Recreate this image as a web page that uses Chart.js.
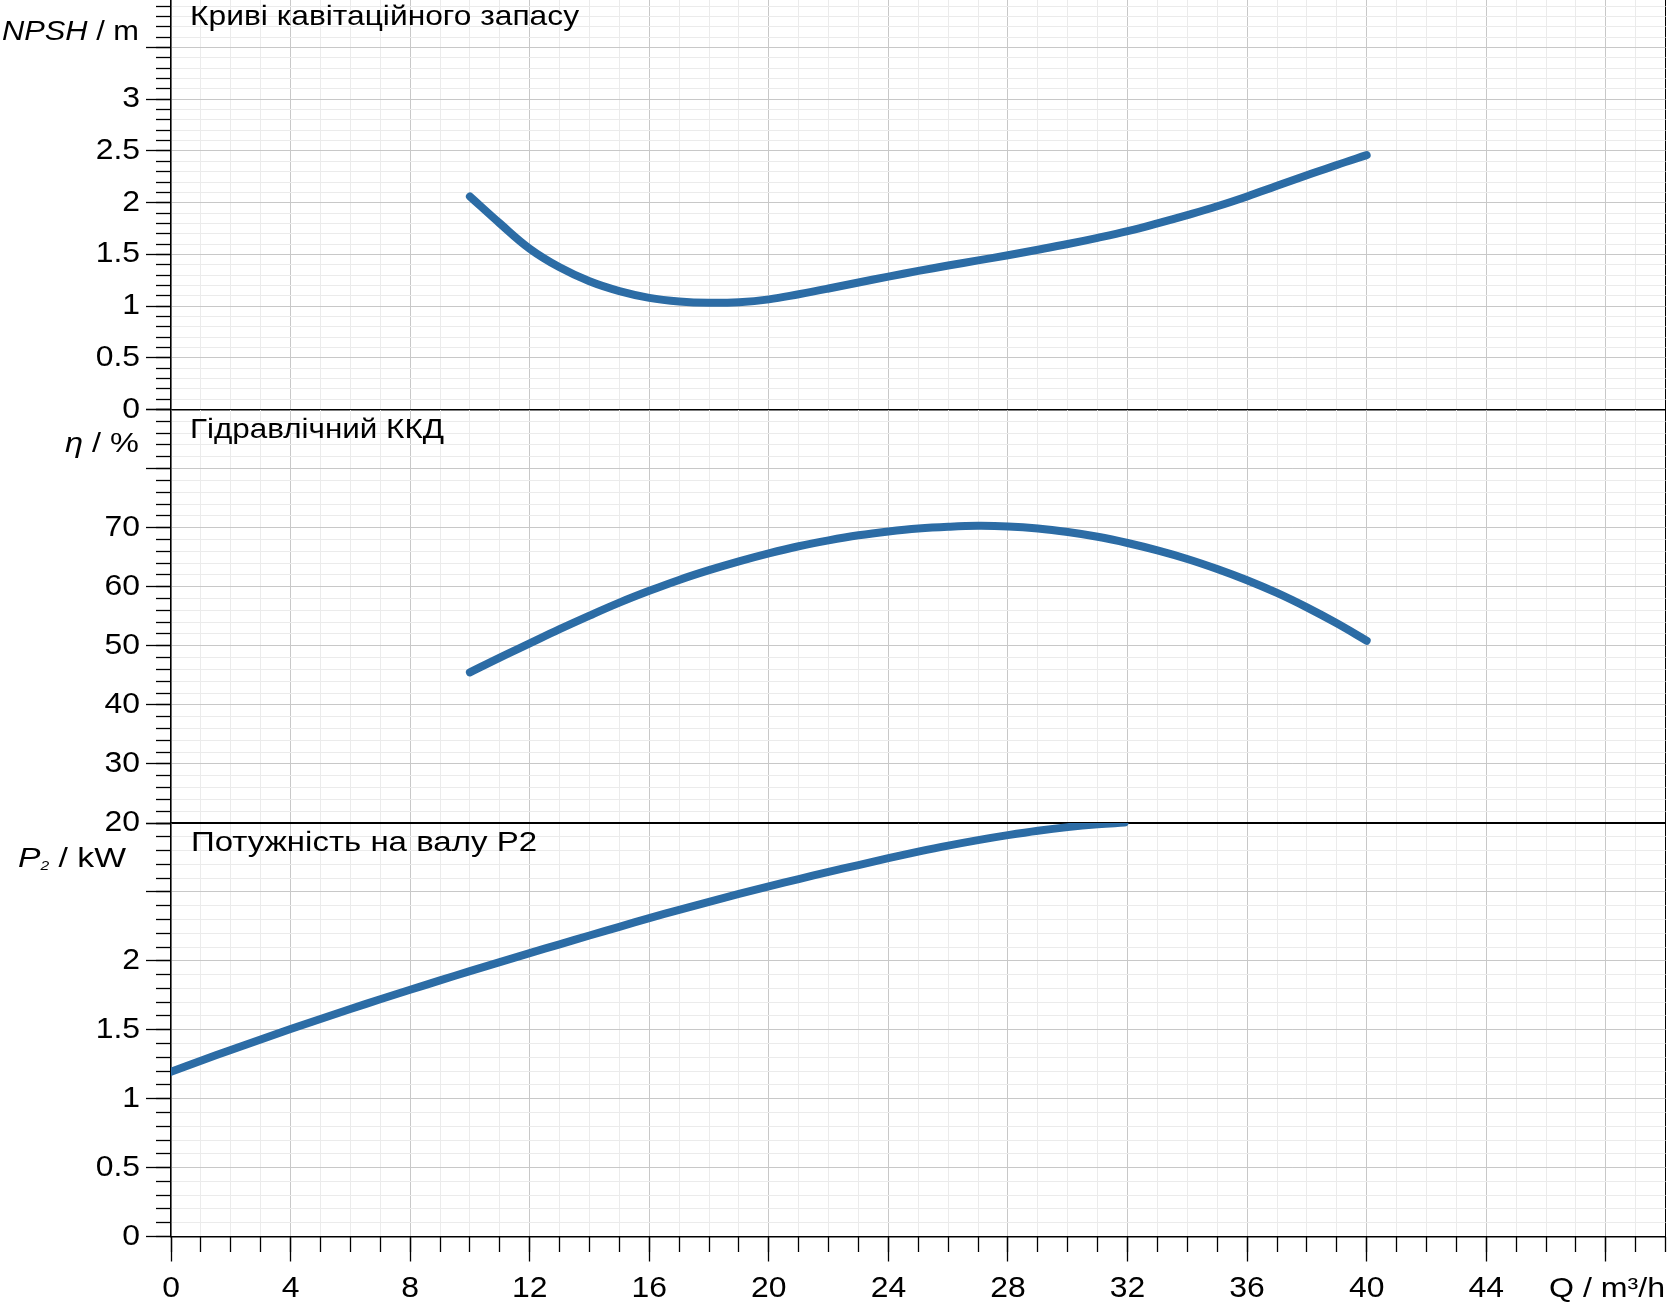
<!DOCTYPE html>
<html>
<head>
<meta charset="utf-8">
<script src="https://cdn.jsdelivr.net/npm/chart.js@4/dist/chart.umd.min.js"></script>
<style>
html,body{margin:0;padding:0;background:#fff;}
#wrap{position:relative;width:1673px;height:1308px;overflow:hidden;background:#fff;}
canvas{position:absolute;left:0;top:0;}
.lbl{position:absolute;font-family:"Liberation Sans",Arial,sans-serif;color:#000;white-space:nowrap;transform-origin:0 0;}
.it{font-style:italic;}
.sub{font-size:13px;vertical-align:-3px;font-style:italic;}
</style>
</head>
<body>
<div id="wrap">
<canvas id="c1" width="1673" height="1308"></canvas>
<canvas id="c2" width="1673" height="1308"></canvas>
<canvas id="c3" width="1673" height="1308"></canvas>
<div class="lbl" id="t1">Криві кавітаційного запасу</div>
<div class="lbl" id="t2">Гідравлічний ККД</div>
<div class="lbl" id="t3">Потужність на валу  P2</div>
<div class="lbl" id="a1"><span class="it">NPSH</span> /  m</div>
<div class="lbl" id="a2"><span class="it">η</span>  /  %</div>
<div class="lbl" id="a3"><span class="it">P</span><span class="sub">2</span>  /  kW</div>
<div class="lbl" id="a4">Q  /  m³/h</div>
</div>
<script>
// ---- data ----
const qNpsh = [10,11,12,13,14,15,16,17,18,19,20,21,22,23,24,25,26,27,28,29,30,31,32,33,34,35,36,37,38,39,40];
const npsh  = [2.06,1.80,1.555,1.375,1.24,1.145,1.08,1.045,1.032,1.038,1.065,1.115,1.17,1.228,1.285,1.34,1.392,1.442,1.492,1.545,1.60,1.66,1.725,1.80,1.88,1.965,2.06,2.163,2.265,2.365,2.46];
const qEta  = [10,11,12,13,14,15,16,17,18,19,20,21,22,23,24,25,26,27,28,29,30,31,32,33,34,35,36,37,38,39,40];
const eta   = [45.5,48.0,50.4,52.8,55.1,57.3,59.3,61.15,62.8,64.3,65.65,66.85,67.85,68.7,69.35,69.85,70.15,70.3,70.2,69.85,69.25,68.45,67.4,66.15,64.7,63.0,61.1,58.95,56.5,53.8,50.85];
const qPower = [0,1,2,3,4,5,6,7,8,9,10,11,12,13,14,15,16,17,18,19,20,21,22,23,24,25,26,27,28,29,30,31,31.9];
const power  = [1.195,1.275,1.353,1.43,1.505,1.578,1.65,1.721,1.79,1.858,1.925,1.991,2.056,2.12,2.184,2.247,2.31,2.37,2.428,2.485,2.54,2.593,2.645,2.695,2.745,2.792,2.836,2.876,2.912,2.944,2.97,2.99,3.003];
const qTickLabels = [0,4,8,12,16,20,24,28,32,36,40,44];
const npshTickLabels = [0,0.5,1,1.5,2,2.5,3];
const etaTickLabels = [20,30,40,50,60,70];
const powerTickLabels = [0,0.5,1,1.5,2];

// ---- presentation ----
const FONT = "'Liberation Sans', Arial, sans-serif";
const W = 1673, H = 1308, AXIS_X = 171, RIGHT = 1665.6;
const LINE = '#2c6ca5', G_MAJ = '#c8c8c8', G_MIN = '#ebebeb';
const TEXT_STRETCH = 1.1;
const isMult = (v, s) => Math.abs(v / s - Math.round(v / s)) < 1e-6;
const inList = (arr, v) => arr.some(a => Math.abs(a - v) < 1e-9);

// widen tick label glyphs horizontally (the reference text is horizontally stretched)
const stretchText = {
  id: 'stretchText',
  beforeDraw(chart) {
    const ctx = chart.ctx;
    const orig = ctx.fillText;
    chart.$origFill = orig;
    ctx.fillText = function (t, x, y, mw) {
      this.save();
      this.translate(x, y);
      this.scale(TEXT_STRETCH, 1);
      if (mw === undefined) orig.call(this, t, 0, 0); else orig.call(this, t, 0, 0, mw / TEXT_STRETCH);
      this.restore();
    };
  },
  afterDraw(chart) {
    if (chart.$origFill) { chart.ctx.fillText = chart.$origFill; }
  }
};

const panels = [
  {id:'c1', q:qNpsh,  v:npsh,  min:0,  max:3.96, minor:0.1, major:0.5, labels:npshTickLabels,  top:0,     bottom:409.5,  showX:false},
  {id:'c2', q:qEta,   v:eta,   min:20, max:90,   minor:2,   major:10,  labels:etaTickLabels,   top:409.5, bottom:823,    showX:false},
  {id:'c3', q:qPower, v:power, min:0,  max:3,    minor:0.1, major:0.5, labels:powerTickLabels, top:823,   bottom:1236.5, showX:true}
];

panels.forEach(p => {
  const scales = {
    x: {
      type:'linear', position:'bottom', min:0, max:50,
      ticks:{stepSize:1, autoSkip:false, maxRotation:0, includeBounds:false, display:p.showX, padding:10,
             color:'#000', font:{family:FONT, size:29},
             callback: v => inList(qTickLabels, v) ? String(v) : ''},
      grid:{lineWidth:1, drawTicks:p.showX, tickLength:25, tickWidth:1.3,
            color: c => { const v = c.tick ? c.tick.value : 0; return Math.abs(v - 50) < 1e-9 ? '#000' : (isMult(v, 4) ? G_MAJ : G_MIN); },
            tickColor: c => (c.tick && isMult(c.tick.value, 4)) ? '#000' : 'rgba(0,0,0,0)'},
      border:{display:true, color:'#000', width:1.5},
      afterFit: s => { s.height = p.showX ? (H - p.bottom) : 0; s.paddingLeft = 0; s.paddingRight = 0; }
    },
    y: {
      type:'linear', position:'left', min:p.min, max:p.max,
      ticks:{stepSize:p.minor, autoSkip:false, includeBounds:false, padding:6, color:'#000', font:{family:FONT, size:29},
             callback: v => inList(p.labels, v) ? String(v) : ''},
      grid:{lineWidth:1, tickLength:25, tickWidth:1.3,
            color: c => { const v = c.tick ? c.tick.value : 0; if (Math.abs(v - p.max) < 1e-9) return '#000'; return isMult(v, p.major) ? G_MAJ : G_MIN; },
            tickColor: c => (c.tick && isMult(c.tick.value, p.major)) ? '#000' : 'rgba(0,0,0,0)'},
      border:{display:true, color:'#000', width:1.5},
      afterFit: s => { s.width = AXIS_X; s.paddingTop = 0; s.paddingBottom = 0; }
    },
    yMinor: {
      type:'linear', axis:'y', position:{x:0}, min:p.min, max:p.max,
      ticks:{stepSize:p.minor, autoSkip:false, includeBounds:false, display:false},
      grid:{drawOnChartArea:false, drawTicks:true, tickLength:15, tickColor:'#000', tickWidth:1.3},
      border:{display:false},
      afterFit: s => { s.width = 0; s.paddingTop = 0; s.paddingBottom = 0; }
    }
  };
  if (p.showX) {
    scales.xMinor = {
      type:'linear', axis:'x', position:{y:p.min}, min:0, max:50,
      ticks:{stepSize:1, autoSkip:false, includeBounds:false, display:false},
      grid:{drawOnChartArea:false, drawTicks:true, tickLength:15, tickColor:'#000', tickWidth:1.3},
      border:{display:false},
      afterFit: s => { s.height = 0; s.paddingLeft = 0; s.paddingRight = 0; }
    };
  }
  new Chart(document.getElementById(p.id).getContext('2d'), {
    type:'line',
    data:{datasets:[{
      data: p.q.map((x, i) => ({x:x, y:p.v[i]})),
      xAxisID:'x', yAxisID:'y',
      borderColor:LINE, borderWidth:8, pointRadius:0, pointHoverRadius:0,
      tension:0.4, borderCapStyle:'round', borderJoinStyle:'round',
      fill:false, clip:0
    }]},
    options:{
      responsive:false, animation:false, events:[],
      layout:{padding:{left:0, right:W - RIGHT, top:p.top, bottom:p.showX ? 0 : H - p.bottom}},
      plugins:{legend:{display:false}, tooltip:{enabled:false}, title:{display:false}},
      scales: scales
    },
    plugins:[stretchText]
  });
});

// ---- text placement (baseline, left, target width) ----
const textPos = [
  {id:'t1', left:190, base:26,   w:389, fs:28},
  {id:'t2', left:190, base:439,  w:254, fs:28},
  {id:'t3', left:191, base:852,  w:346, fs:28},
  {id:'a1', left:2,   base:40.5, w:137, fs:28},
  {id:'a2', left:65,  base:453,  w:74,  fs:28},
  {id:'a3', left:18,  base:868,  w:108, fs:28},
  {id:'a4', left:1549,base:1298, w:116, fs:28}
];
textPos.forEach(t => {
  const el = document.getElementById(t.id);
  el.style.fontSize = t.fs + 'px';
  el.style.lineHeight = t.fs + 'px';
  el.style.left = t.left + 'px';
  const baseOff = (t.fs - 1.117 * t.fs) / 2 + 0.905 * t.fs;
  el.style.top = (t.base - baseOff) + 'px';
  const nat = el.getBoundingClientRect().width;
  el.style.transform = 'scaleX(' + (t.w / nat).toFixed(4) + ')';
});
</script>
</body>
</html>
